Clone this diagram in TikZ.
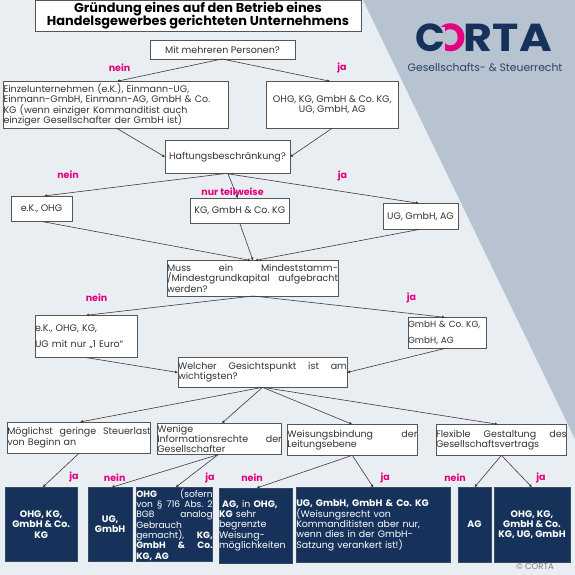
\documentclass[tikz,border=0pt]{standalone}
\usepackage{fontspec}
\setmainfont{Poppins}
\usetikzlibrary{calc,arrows.meta}
\definecolor{bgl}{HTML}{E9EEF3}
\definecolor{bgd}{HTML}{B7C3D0}
\definecolor{navy}{HTML}{16325A}
\definecolor{pinky}{HTML}{E6007E}
\definecolor{edgec}{HTML}{555555}
\definecolor{txt}{HTML}{333333}
\newcommand{\jl}[1]{\leavevmode\hbox to\hsize{\spaceskip=.3em plus 1fil\relax #1}}
\newcommand{\tightl}{\lineskiplimit=-20pt\relax}
\tikzset{
  qbox/.style={draw=edgec,line width=0.7pt,fill=white,text=txt,inner sep=0pt,outer sep=0pt,font=\fontsize{9.5}{10.2}\selectfont\tightl,anchor=north west},
  dbox/.style={draw=navy!70!gray,line width=0.5pt,fill=navy,text=white,inner sep=0pt,outer sep=0pt,font=\fontsize{9.4}{10.3}\selectfont\tightl,anchor=north west},
  lab/.style={text=pinky,font=\fontsize{9.5}{10}\selectfont\bfseries,inner sep=0pt},
  conn/.style={draw=edgec!70!black,line width=0.6pt,-{Latex[length=3pt,width=3pt]}},
  logot/.style={inner sep=0pt,font=\fontsize{39}{39}\selectfont\bfseries,anchor=base}
}
\begin{document}
\frenchspacing
\begin{tikzpicture}[x=1pt,y=-1pt]
\useasboundingbox (0,0) rectangle (575,575);
\fill[bgl] (0,0) rectangle (575,575);
\fill[bgd] (363,0) -- (575,0) -- (575,439) -- cycle;
% logo
\node[logot,text=navy,anchor=base west] (logoc) at (415,52) {C};
\begin{scope}
\clip (439,15) -- (475,15) -- (475,60) -- (445,60) -- (445,27) -- (439,27) -- cycle;
\node[logot,text=pinky,anchor=base east] (logoo) at (466,52) {O};
\end{scope}
\node[logot,text=navy,anchor=base east] (logor) at (552,52) {\scalebox{1.14}[1]{RTA}};
\node[inner sep=0pt,text=navy!80!gray,font=\fontsize{10.8}{12}\selectfont,anchor=center] (logosub) at (485,67) {Gesellschafts- \& Steuerrecht};
% title
\node[qbox,minimum width=326pt,minimum height=31.5pt,align=center,text=black,font=\fontsize{12.9}{12.4}\selectfont\bfseries\tightl] (title) at (35,0) {Gründung eines auf den Betrieb eines\\Handelsgewerbes gerichteten Unternehmens};
% question boxes
\node[qbox,minimum width=145pt,minimum height=18.3pt,align=center] (mit) at (150,40.7) {Mit mehreren Personen?};
\node[qbox,minimum height=47pt,text width=224.5pt,align=left] (einzel) at (3.5,81.3) {Einzelunternehmen (e.K.), Einmann-UG,\\Einmann-GmbH, Einmann-AG, GmbH \& Co.\\KG (wenn einziger Kommanditist auch\\einziger Gesellschafter der GmbH ist)};
\node[qbox,minimum width=131.5pt,minimum height=47pt,align=center] (mehr) at (266.5,81.3) {OHG, KG, GmbH \& Co. KG,\\UG, GmbH, AG};
\node[qbox,minimum width=125pt,minimum height=33.4pt,align=center] (haft) at (165,140.3) {Haftungsbeschränkung?};
\node[qbox,minimum width=61pt,minimum height=25.7pt,align=center] (ek) at (11,196) {e.K., OHG};
\node[qbox,minimum width=99.5pt,minimum height=25pt,align=center] (kg) at (190,198.3) {KG, GmbH \& Co. KG};
\node[qbox,minimum width=75pt,minimum height=26pt,align=center] (ug) at (383,203.3) {UG, GmbH, AG};
\node[qbox,minimum height=35.5pt,text width=171pt,align=left] (muss) at (167,260.5) {\jl{Muss ein Mindeststamm-}\\\jl{/Mindestgrundkapital aufgebracht}\\werden?};
\node[qbox,minimum height=42.4pt,text width=102pt,align=left,font=\fontsize{9.5}{16.6}\selectfont\tightl] (nein3) at (35,315.3) {e.K., OHG, KG,\\UG mit nur „1 Euro“};
\node[qbox,minimum height=31pt,text width=78pt,align=left,font=\fontsize{8.9}{16.8}\selectfont\tightl] (ja3) at (408,317.3) {GmbH \& Co. KG,\\GmbH, AG};
\node[qbox,minimum height=29.6pt,text width=169pt,align=left] (welcher) at (178,357.7) {\jl{Welcher Gesichtspunkt ist am}\\wichtigsten?};
\node[qbox,minimum height=31.3pt,text width=143.4pt,align=left] (steuer) at (7.3,422) {\jl{Möglichst geringe Steuerlast}\\von Beginn an};
\node[qbox,minimum height=31.4pt,text width=124.4pt,align=left] (info) at (157.3,423.3) {Wenige\\\jl{Informationsrechte der}\\Gesellschafter};
\node[qbox,minimum height=31pt,text width=130pt,align=left] (weis) at (287.3,424.3) {\jl{Weisungsbindung der}\\Leitungsebene};
\node[qbox,minimum height=31pt,text width=130.7pt,align=left] (flex) at (436,424.3) {\jl{Flexible Gestaltung des}\\Gesellschaftsvertrags};
% result boxes
\node[dbox,minimum width=72.3pt,minimum height=74.4pt,align=center] (r1) at (5,487.3) {\bfseries OHG, KG,\\\bfseries GmbH \& Co.\\\bfseries KG};
\node[dbox,minimum width=44.3pt,minimum height=74.4pt,align=center] (r2) at (88,487.3) {\bfseries UG,\\\bfseries GmbH};
\node[dbox,minimum height=74.4pt,text width=76.4pt,align=left,font=\fontsize{9.1}{10.3}\selectfont\tightl] (r3) at (136.3,487.3) {\jl{\textbf{OHG} (sofern}\\\jl{von § 716 Abs. 2}\\\jl{BGB analog}\\Gebrauch\\\jl{gemacht), \textbf{KG,}}\\\jl{\textbf{GmbH \& Co.}}\\\textbf{KG, AG}};
\node[dbox,minimum height=75.3pt,text width=73.3pt,align=left] (r4) at (219,488) {\textbf{\ AG,} in \textbf{OHG,}\\\textbf{KG} sehr\\begrenzte\\Weisung-\\möglichkeiten};
\node[dbox,minimum height=75pt,text width=154.4pt,align=left] (r5) at (296.3,487.7) {\textbf{UG, GmbH, GmbH \& Co. KG}\\(Weisungsrecht von\\Kommanditisten aber nur,\\wenn dies in der GmbH-\\Satzung verankert ist!)};
\node[dbox,minimum width=33pt,minimum height=74.7pt,align=center] (r6) at (458,487.3) {\bfseries AG};
\node[dbox,minimum width=76pt,minimum height=74.7pt,align=center] (r7) at (494,487.3) {\bfseries OHG, KG,\\\bfseries GmbH \& Co.\\\bfseries KG, UG, GmbH};
% connectors
\draw[conn] ([xshift=-0.5pt]mit.south) -- ([xshift=1.2pt]einzel.north);
\draw[conn] ([xshift=-0.5pt]mit.south) -- ([xshift=-2pt]mehr.north);
\draw[conn] ([xshift=1pt]einzel.south) -- (haft.west);
\draw[conn] ([xshift=-0.2pt]mehr.south) -- (haft.east);
\draw[conn] ([xshift=-3.5pt]haft.south) -- ([xshift=2.5pt]ek.north);
\draw[conn] ([xshift=0.5pt]haft.south) -- ([xshift=-2pt]kg.north);
\draw[conn] ([xshift=-0.5pt]haft.south) -- ([xshift=-1.5pt]ug.north);
\draw[conn] ([xshift=1.5pt]ek.south) -- ([xshift=-1.5pt]muss.north);
\draw[conn] (kg.south) -- ([xshift=0.5pt]muss.north);
\draw[conn] ([xshift=-0.5pt]ug.south) -- ([xshift=2.5pt]muss.north);
\draw[conn] ([xshift=0.5pt]muss.south) -- (nein3.north);
\draw[conn] ([xshift=0.5pt]muss.south) -- ([xshift=-2pt]ja3.north);
\draw[conn] ([xshift=1pt]nein3.south) -- (welcher.west);
\draw[conn] ([xshift=-1.5pt]ja3.south) -- (welcher.east);
\draw[conn] (welcher.south) -- ([xshift=1pt]steuer.north);
\draw[conn] (welcher.south) -- ([xshift=2.2pt]info.north);
\draw[conn] (welcher.south) -- (weis.north);
\draw[conn] (welcher.south) -- ([xshift=-3.5pt]flex.north);
\draw[conn] (steuer.south) -- ([xshift=1.5pt]r1.north);
\draw[conn] ([xshift=-1.5pt]info.south) -- ([xshift=1.5pt]r2.north);
\draw[conn] ([xshift=-1.5pt]info.south) -- ([xshift=1.2pt]r3.north);
\draw[conn] (weis.south) -- ([xshift=1pt]r4.north);
\draw[conn] (weis.south) -- (r5.north);
\draw[conn] (flex.south) -- (r6.north);
\draw[conn] (flex.south) -- (r7.north);
% labels
\node[lab] (l1) at (119.5,68) {nein};
\node[lab] (l2) at (342,68) {ja};
\node[lab] (l3) at (68,175) {nein};
\node[lab] (l4) at (232.5,192) {nur teilweise};
\node[lab] (l5) at (342.5,176) {ja};
\node[lab] (l6) at (96.5,298) {nein};
\node[lab] (l7) at (411.5,298) {ja};
\node[lab] (l8) at (74,477) {ja};
\node[lab] (l9) at (114.7,477.7) {nein};
\node[lab] (l10) at (210,478) {ja};
\node[lab] (l11) at (252,477.7) {nein};
\node[lab] (l12) at (385.3,477.7) {ja};
\node[lab] (l13) at (455,477.7) {nein};
\node[lab] (l14) at (541,477.7) {ja};
\node[inner sep=0pt,text=gray,font=\fontsize{8.5}{10}\selectfont] (copy) at (535,567) {© CORTA};
\end{tikzpicture}
\end{document}
